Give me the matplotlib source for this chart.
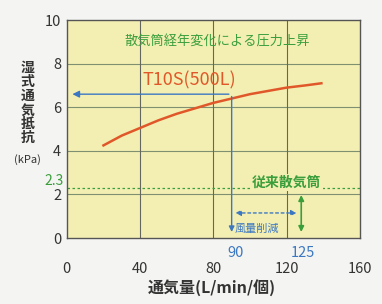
import matplotlib.pyplot as plt

plt.rcParams['font.family'] = ['Noto Sans CJK JP', 'DejaVu Sans']

# flow rate (L/min per unit) vs wet air-flow resistance (kPa), T10S(500L)
flow = [20, 30, 40, 50, 60, 70, 80, 90, 100, 110, 120, 130, 139]
resistance = [4.25, 4.7, 5.05, 5.4, 5.7, 5.95, 6.2, 6.4, 6.6, 6.75, 6.9, 7.0, 7.1]

x_ticks = [0, 40, 80, 120, 160]
y_ticks = [0, 2, 4, 6, 8, 10]
old_pressure = 2.3
new_flow, old_flow = 90, 125
target_pressure = 6.6

green = '#3a9e3c'
blue = '#3c78c2'
orange = '#e0582a'

fig = plt.figure(figsize=(3.82, 3.04), dpi=100, facecolor='#f4f4f2')
ax = fig.add_axes([0.175, 0.217, 0.767, 0.717])
ax.set_facecolor('#f3efb2')

ax.set_xlim(0, 160)
ax.set_ylim(0, 10)
ax.set_xticks(x_ticks)
ax.set_yticks(y_ticks)
ax.tick_params(length=0, labelsize=10.5, colors='#333333')
ax.tick_params(axis='x', pad=17)
ax.tick_params(axis='y', pad=4)
for s in ax.spines.values():
    s.set_color('#555555')
    s.set_linewidth(1.0)

for y in y_ticks[1:-1]:
    ax.axhline(y, color='#7f9070', lw=0.8, zorder=1)
for x in x_ticks[1:-1]:
    ax.axvline(x, color='#666660', lw=0.8, zorder=1)

ax.plot(flow, resistance, color=orange, lw=1.8, zorder=3)

# old diffuser level
ax.axhline(old_pressure, color=green, lw=0.9, ls=(0, (2, 2)), zorder=2)
ax.annotate('2.3', xy=(0, old_pressure), xytext=(-2, 5), textcoords='offset points',
            ha='right', va='center', color=green, fontsize=10, annotation_clip=False)
ax.text(120, 2.55, '従来散気筒', color=green, fontsize=10, ha='center', va='center',
        fontweight='bold',
        bbox=dict(facecolor='#f3efb2', edgecolor='none', pad=1), zorder=4)

# blue arrows
ax.annotate('', xy=(1.5, target_pressure), xytext=(new_flow, target_pressure),
            arrowprops=dict(arrowstyle='-|>', color=blue, lw=1.0, mutation_scale=10), zorder=4)
ax.annotate('', xy=(new_flow, 0.15), xytext=(new_flow, target_pressure + 0.02),
            arrowprops=dict(arrowstyle='-|>', color=blue, lw=1.0, mutation_scale=8), zorder=4)
ax.annotate('', xy=(new_flow + 0.5, 1.15), xytext=(old_flow + 2, 1.15),
            arrowprops=dict(arrowstyle='<|-|>', color=blue, lw=1.0, ls=(0, (2, 2)),
                            mutation_scale=8), zorder=4)
ax.text(new_flow + 1.5, 0.4, '風量削減', color=blue, fontsize=8, ha='left', va='center')

# green arrow
ax.annotate('', xy=(old_flow + 3, 0.15), xytext=(old_flow + 3, 2.1),
            arrowprops=dict(arrowstyle='<|-|>', color=green, lw=1.2, mutation_scale=8), zorder=4)

# marked flow values
for xv, lab in [(new_flow + 2, '90'), (old_flow + 4, '125')]:
    ax.annotate(lab, xy=(xv, 0), xycoords='data', xytext=(0, -6), textcoords='offset points',
                ha='center', va='top', color=blue, fontsize=10.5, annotation_clip=False)

ax.text(82, 9.0, '散気筒経年変化による圧力上昇', color=green, fontsize=9.5, ha='center',
        va='center')
ax.text(67, 7.25, 'T10S(500L)', color=orange, fontsize=13, ha='center', va='center')

fig.text(0.072, 0.66, '湿\n式\n通\n気\n抵\n抗', ha='center', va='center', fontsize=10,
         fontweight='bold', linespacing=1.0, color='#333333')
fig.text(0.072, 0.475, '(kPa)', ha='center', va='center', fontsize=8, color='#333333')
fig.text(0.555, 0.055, '通気量(L/min/個)', ha='center', va='center', fontsize=11.5,
         fontweight='bold', color='#333333')

fig.savefig('out.png', dpi=100, facecolor=fig.get_facecolor())
